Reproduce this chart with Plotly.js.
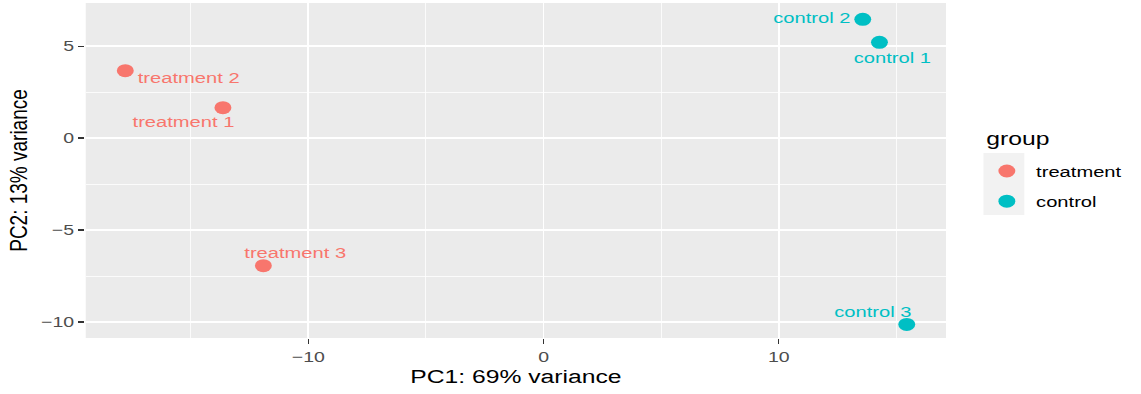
<!DOCTYPE html>
<html>
<head>
<meta charset="utf-8">
<script src="https://cdn.plot.ly/plotly-3.0.1.min.js"></script>
<style>
  html, body { margin: 0; padding: 0; background: #ffffff; overflow: hidden; }
  #wrap { width: 1141px; height: 394px; overflow: hidden; }
  #plot { width: 878px; height: 394px; transform: scaleX(1.2995); transform-origin: 0 0; }
</style>
</head>
<body>
<div id="wrap"><div id="plot"></div></div>
<script>
// ---- data ----
const groups = ["treatment", "control"];
const groupColors = ["#F8766D", "#00BFC4"];

const treatmentNames = ["treatment 1", "treatment 2", "treatment 3"];
const treatmentPC1 = [-13.63, -17.78, -11.91];
const treatmentPC2 = [1.65, 3.66, -6.94];

const controlNames = ["control 1", "control 2", "control 3"];
const controlPC1 = [14.28, 13.57, 15.44];
const controlPC2 = [5.2, 6.45, -10.13];

const xTitle = "PC1: 69% variance";
const yTitle = "PC2: 13% variance";
const legendTitle = "group";

// label offsets (repel-like placement), in px
const treatmentLabelShift = [[-30.5, -14], [48.5, -7], [24, 13]];
const controlLabelShift = [[9.6, -14.7], [-39.7, 2], [-26.4, 12.6]];

const FONT = "Liberation Sans, Arial, Helvetica, sans-serif";

const traces = [
  {
    x: treatmentPC1, y: treatmentPC2, text: treatmentNames,
    type: "scatter", mode: "markers", name: groups[0], legendgroup: "g1",
    marker: { color: groupColors[0], size: 13, line: { width: 0 } },
    hoverinfo: "text"
  },
  {
    x: controlPC1, y: controlPC2, text: controlNames,
    type: "scatter", mode: "markers", name: groups[1], legendgroup: "g2",
    marker: { color: groupColors[1], size: 13, line: { width: 0 } },
    hoverinfo: "text"
  }
];

const annotations = [];
function addLabels(xs, ys, names, shifts, color) {
  for (let i = 0; i < xs.length; i++) {
    annotations.push({
      x: xs[i], y: ys[i], xref: "x", yref: "y", text: names[i],
      showarrow: false, xshift: shifts[i][0], yshift: shifts[i][1],
      font: { family: FONT, size: 15.5, color: color }
    });
  }
}
addLabels(treatmentPC1, treatmentPC2, treatmentNames, treatmentLabelShift, groupColors[0]);
addLabels(controlPC1, controlPC2, controlNames, controlLabelShift, groupColors[1]);

// legend title (drawn as text so its gap to the keys matches ggplot)
annotations.push({
  xref: "paper", yref: "paper", x: 1.0445, y: 0.597,
  xanchor: "left", yanchor: "middle", showarrow: false,
  text: legendTitle, font: { family: FONT, size: 19, color: "#000000" }
});

const axisCommon = {
  showline: false, zeroline: false,
  showgrid: true, gridcolor: "#ffffff", gridwidth: 1.4,
  ticks: "outside", ticklen: 5, tickwidth: 1.1, tickcolor: "#333333",
  tickfont: { family: FONT, size: 15, color: "#4D4D4D" },
  minor: { showgrid: true, gridcolor: "#ffffff", gridwidth: 0.7, ticks: "" }
};

const layout = {
  width: 878, height: 394,
  margin: { l: 66, r: 150, t: 3, b: 56 },
  paper_bgcolor: "#ffffff",
  plot_bgcolor: "#EBEBEB",
  font: { family: FONT, color: "#000000" },
  showlegend: true,
  xaxis: Object.assign({}, axisCommon, {
    range: [-19.46, 17.11], dtick: 10, tick0: 0,
    minor: Object.assign({}, axisCommon.minor, { dtick: 5 }),
    title: { text: xTitle, font: { family: FONT, size: 19, color: "#000000" }, standoff: 5 }
  }),
  yaxis: Object.assign({}, axisCommon, {
    range: [-10.87, 7.34], dtick: 5, tick0: 0,
    minor: Object.assign({}, axisCommon.minor, { dtick: 2.5 }),
    title: { text: yTitle, font: { family: FONT, size: 19, color: "#000000" }, standoff: 5 }
  }),
  legend: {
    x: 1.0367, xanchor: "left", y: 0.548, yanchor: "top",
    bgcolor: "rgba(0,0,0,0)", borderwidth: 0,
    font: { family: FONT, size: 15.5, color: "#000000" },
    tracegroupgap: 7, itemwidth: 35
  },
  shapes: [{
    type: "rect", xref: "paper", yref: "paper",
    x0: 1.0435, x1: 1.091, y0: 0.367, y1: 0.552,
    fillcolor: "#F2F2F2", line: { width: 0 }, layer: "below"
  }],
  annotations: annotations
};

Plotly.newPlot("plot", traces, layout, { displayModeBar: false, staticPlot: true });
</script>
</body>
</html>
